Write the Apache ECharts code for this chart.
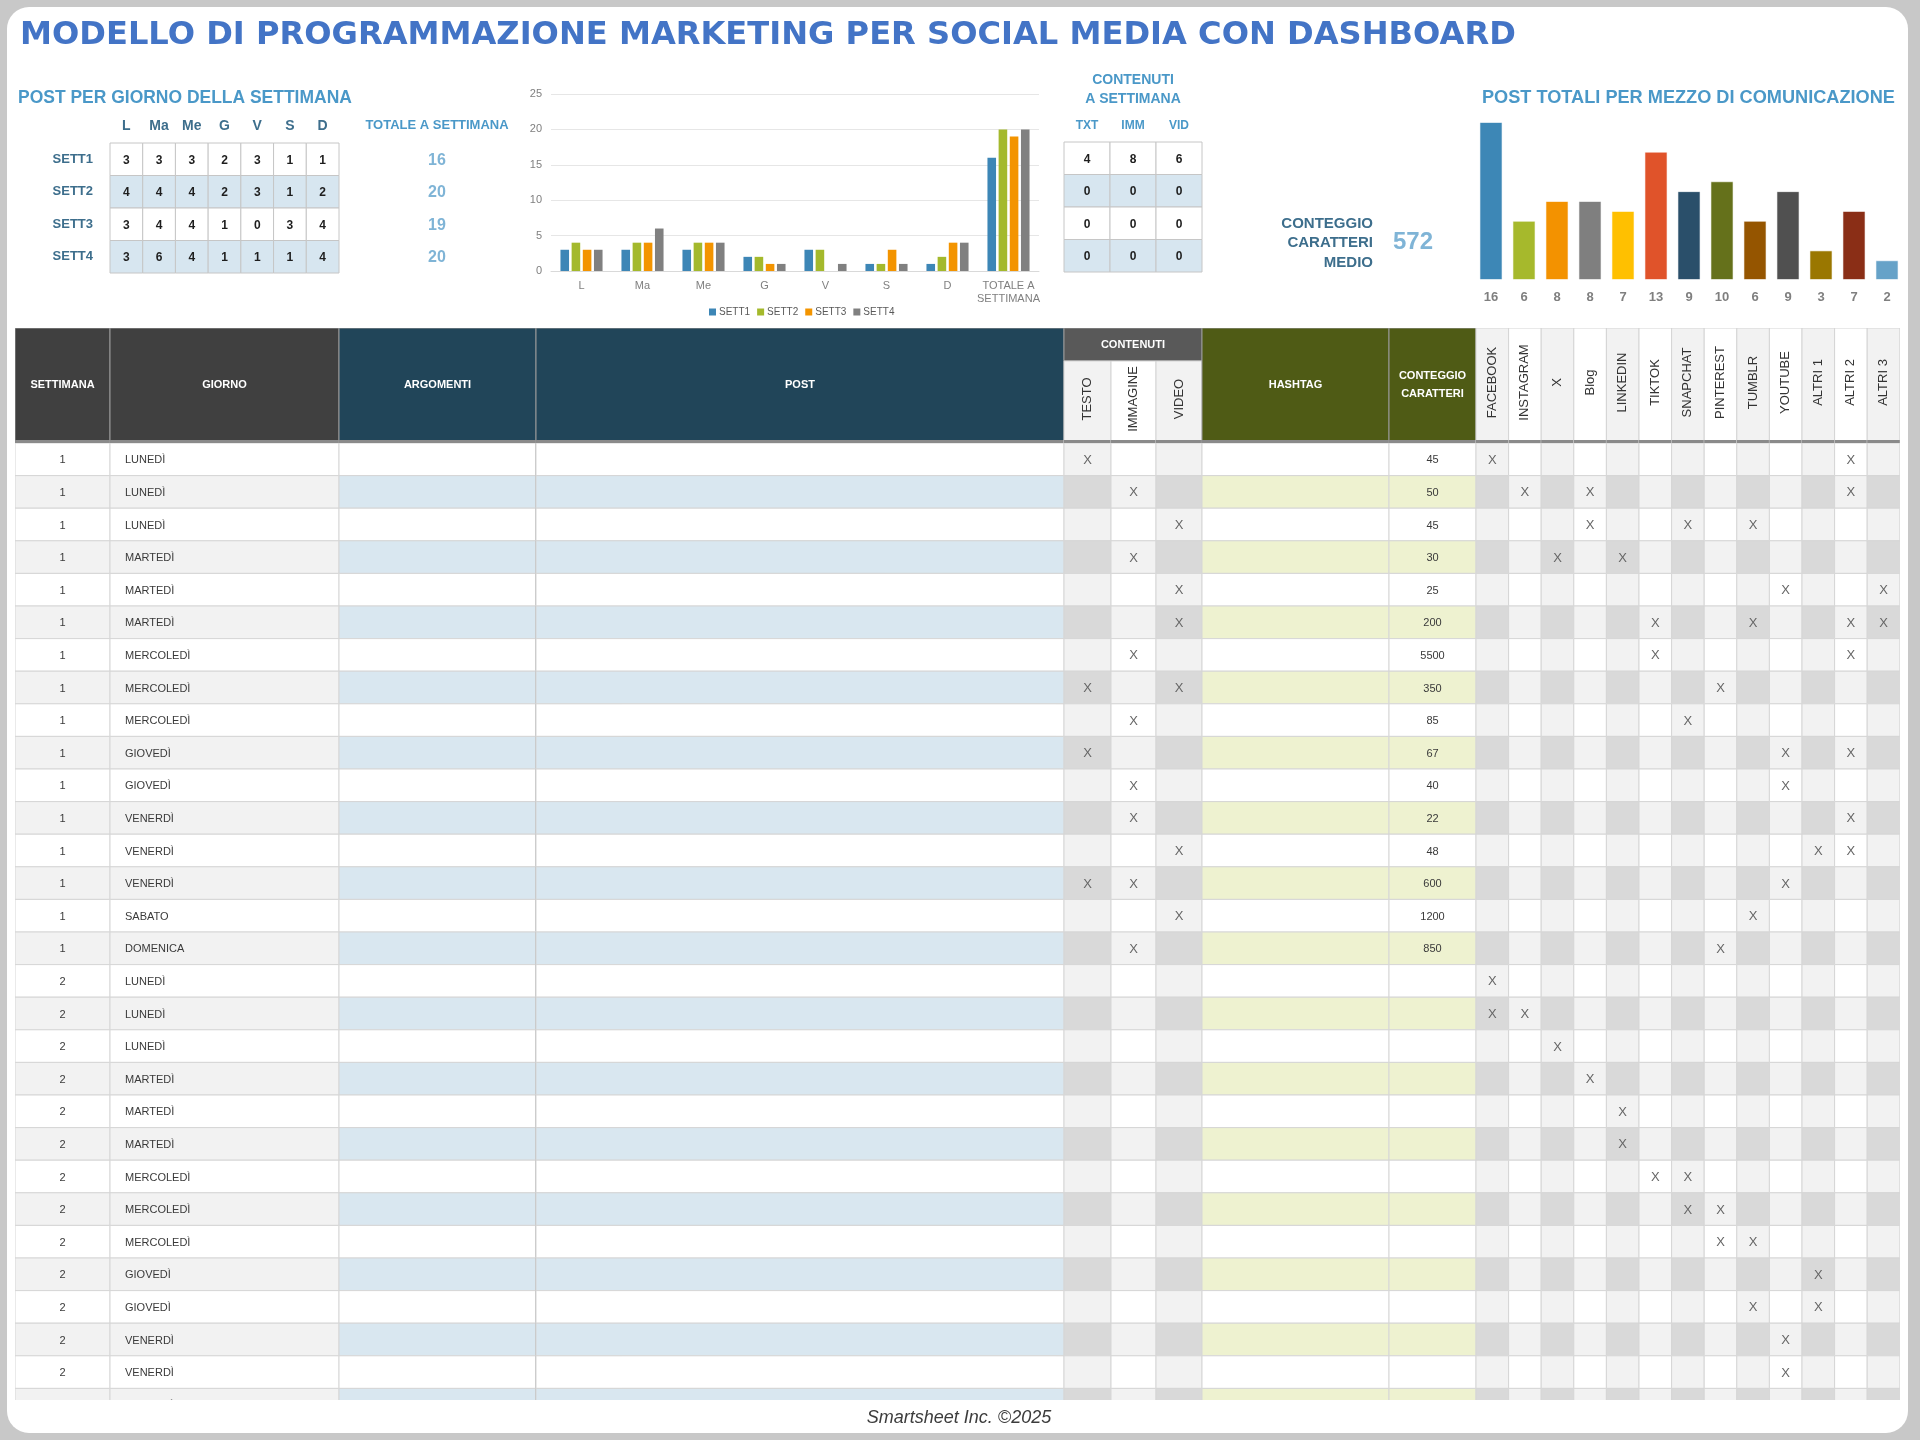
<!DOCTYPE html>
<html><head><meta charset="utf-8">
<script src="https://cdn.jsdelivr.net/npm/echarts@6/dist/echarts.min.js"></script>
<style>html,body{margin:0;padding:0;background:#c8c8c8}#c{width:1920px;height:1440px}</style>
</head><body><div id="c"></div><script>
// ================= DATA =================
const dayLabels = ['L','Ma','Me','G','V','S','D'];
const weekLabels = ['SETT1','SETT2','SETT3','SETT4'];
const sett1 = [3,3,3,2,3,1,1];
const sett2 = [4,4,4,2,3,1,2];
const sett3 = [3,4,4,1,0,3,4];
const sett4 = [3,6,4,1,1,1,4];
const totalLabel = 'TOTALE A SETTIMANA';
const contentLabels = ['TXT','IMM','VID'];
const contentTxt = [4,0,0,0];
const contentImm = [8,0,0,0];
const contentVid = [6,0,0,0];
const channelNames = ['FACEBOOK','INSTAGRAM','X','Blog','LINKEDIN','TIKTOK','SNAPCHAT','PINTEREST','TUMBLR','YOUTUBE','ALTRI 1','ALTRI 2','ALTRI 3'];
const channelTotals = [16,6,8,8,7,13,9,10,6,9,3,7,2];
const tableHeaders = ['SETTIMANA','GIORNO','ARGOMENTI','POST','CONTENUTI','TESTO','IMMAGINE','VIDEO','HASHTAG','CONTEGGIO\nCARATTERI'];
const rowWeeks = [1,1,1,1,1,1,1,1,1,1,1,1,1,1,1,1,2,2,2,2,2,2,2,2,2,2,2,2,2,2];
const rowDays = ['LUNEDÌ','LUNEDÌ','LUNEDÌ','MARTEDÌ','MARTEDÌ','MARTEDÌ','MERCOLEDÌ','MERCOLEDÌ','MERCOLEDÌ','GIOVEDÌ','GIOVEDÌ','VENERDÌ','VENERDÌ','VENERDÌ','SABATO','DOMENICA',
  'LUNEDÌ','LUNEDÌ','LUNEDÌ','MARTEDÌ','MARTEDÌ','MARTEDÌ','MERCOLEDÌ','MERCOLEDÌ','MERCOLEDÌ','GIOVEDÌ','GIOVEDÌ','VENERDÌ','VENERDÌ','VENERDÌ'];
// T = testo, I = immagine, V = video
const rowContent = ['T','I','V','I','V','V','I','TV','I','T','I','I','V','TI','V','I','','','','','','','','','','','','','',''];
const rowChars = [45,50,45,30,25,200,5500,350,85,67,40,22,48,600,1200,850,null,null,null,null,null,null,null,null,null,null,null,null,null,null];
// indexes into channelNames
const rowChannels = [[0,11],[1,3,11],[3,6,8],[2,4],[9,12],[5,8,11,12],[5,11],[7],[6],[9,11],[9],[11],[10,11],[9],[8],[7],
  [0],[0,1],[2],[3],[4],[4],[5,6],[6,7],[7,8],[10],[8,10],[9],[9],[9]];
const footerText = 'Smartsheet Inc. ©2025';
const titleText = 'MODELLO DI PROGRAMMAZIONE MARKETING PER SOCIAL MEDIA CON DASHBOARD';

// ================= STYLE / LAYOUT =================
const weekColors = ['#3d86b6','#a4b92c','#f39400','#808080'];
const channelColors = ['#3d87b6','#a6b92c','#f39200','#7f7f7f','#ffc000','#e0532a','#2a4f6a','#65711b','#955500','#505050','#9a7700','#8a2e16','#66a2c8'];
const F = "'Liberation Sans', Arial, sans-serif";
const FT = "'DejaVu Sans', sans-serif";
const colW = [95,229,197,528,47,45,46,187,87].concat(new Array(13).fill(32.6));
const colStart = []; let acc = 0; colW.forEach(w => { colStart.push(acc); acc += w; }); const tableW = acc;
const ROW_H = 32.6, BODY_H = 957, HEAD_H = 115, SUB_Y = 33;

function fitSize(text, width, weight, family, style) {
  const ctx = document.createElement('canvas').getContext('2d');
  ctx.font = (style || 'normal') + ' ' + weight + ' 100px ' + family;
  return 100 * width / ctx.measureText(text).width;
}
function txt(text, x, y, font, fill, align, extra) {
  return {type:'text', x:x, y:y, z:50, style:Object.assign({text:text, font:font, fill:fill,
    align:align||'left', verticalAlign:'middle', textAlign:align||'left', textVerticalAlign:'middle'}, extra||{})};
}
const sum = a => a.reduce((s,v)=>s+v,0);
const weekData = [sett1, sett2, sett3, sett4];
const weekTotals = weekData.map(sum);
const contentData = [contentTxt, contentImm, contentVid];
const charVals = rowChars.filter(v => v != null);
const avgChars = Math.round(sum(charVals) / charVals.length);

// ----- small tables -----
const dayTableData = [];
weekData.forEach((arr,w)=>arr.forEach((v,d)=>dayTableData.push([d,w,v])));
const contTableData = [];
for (let w=0; w<4; w++) contentData.forEach((arr,c)=>contTableData.push([c,w,arr[w]]));
function smallCell(params, api) {
  const c = api.coord([api.value(0), api.value(1)]);
  const s = api.size([1,1]);
  const w = api.value(1);
  return {type:'group', children:[
    {type:'rect', shape:{x:c[0]-s[0]/2, y:c[1]-s[1]/2, width:s[0], height:s[1]}, style:{fill: w%2 ? '#d7e6f0' : '#ffffff', stroke:'#c6c6c6', lineWidth:1}},
    {type:'text', x:c[0], y:c[1]+1, style:{text:String(api.value(2)), fill:'#1e1e1e', font:"bold 12px "+F, align:'center', verticalAlign:'middle', textAlign:'center', textVerticalAlign:'middle'}}
  ]};
}

// ----- big table -----
const headerCells = [
  {c0:0,c1:0,y0:0,y1:HEAD_H,text:tableHeaders[0],bg:'#404040',color:'#fff'},
  {c0:1,c1:1,y0:0,y1:HEAD_H,text:tableHeaders[1],bg:'#404040',color:'#fff'},
  {c0:2,c1:2,y0:0,y1:HEAD_H,text:tableHeaders[2],bg:'#214559',color:'#fff'},
  {c0:3,c1:3,y0:0,y1:HEAD_H,text:tableHeaders[3],bg:'#214559',color:'#fff'},
  {c0:4,c1:6,y0:0,y1:SUB_Y,text:tableHeaders[4],bg:'#595959',color:'#fff'},
  {c0:4,c1:4,y0:SUB_Y,y1:HEAD_H,text:tableHeaders[5],bg:'#f2f2f2',color:'#333',rot:true},
  {c0:5,c1:5,y0:SUB_Y,y1:HEAD_H,text:tableHeaders[6],bg:'#ffffff',color:'#333',rot:true},
  {c0:6,c1:6,y0:SUB_Y,y1:HEAD_H,text:tableHeaders[7],bg:'#f2f2f2',color:'#333',rot:true},
  {c0:7,c1:7,y0:0,y1:HEAD_H,text:tableHeaders[8],bg:'#4f5b15',color:'#fff'},
  {c0:8,c1:8,y0:0,y1:HEAD_H,text:tableHeaders[9],bg:'#4f5b15',color:'#fff'}
].concat(channelNames.map((n,i)=>({c0:9+i,c1:9+i,y0:0,y1:HEAD_H,text:n,bg:i%2?'#ffffff':'#f2f2f2',color:'#333',rot:true})));
const headerData = headerCells.map((h,i)=>[colStart[h.c0], h.y0, colStart[h.c1]+colW[h.c1], h.y1, i]);
function headerRender(params, api) {
  const h = headerCells[api.value(4)];
  const p0 = api.coord([api.value(0), api.value(1)]);
  const p1 = api.coord([api.value(2), api.value(3)]);
  const x = p0[0], y = p0[1], w = p1[0]-p0[0], hh = p1[1]-p0[1];
  const dark = h.color === '#fff';
  const ch = [{type:'rect', shape:{x:x,y:y,width:w,height:hh}, style:{fill:h.bg, stroke: dark ? '#9a9a9a' : '#d4d4d4', lineWidth:1}}];
  if (h.rot) {
    ch.push({type:'text', x:x+w/2, y:y+hh/2 - 3, rotation:Math.PI/2, style:{text:h.text, fill:h.color, font:"13px "+F, align:'center', verticalAlign:'middle', textAlign:'center', textVerticalAlign:'middle'}});
  } else {
    ch.push({type:'text', x:x+w/2, y:y+hh/2 - (h.y1===HEAD_H ? 1 : 0), style:{text:h.text, fill:h.color, font:"bold 11px "+F, lineHeight:18, align:'center', verticalAlign:'middle', textAlign:'center', textVerticalAlign:'middle'}});
  }
  if (h.y1 === HEAD_H) ch.push({type:'rect', shape:{x:x, y:p1[1]-3, width:w, height:3}, style:{fill:'#8a8a8a'}});
  return {type:'group', children:ch};
}
const bodyData = [];
for (let r=0; r<rowWeeks.length; r++) for (let c=0; c<colW.length; c++) bodyData.push([colStart[c], r, colStart[c]+colW[c], r+1, c]);
function bodyFill(c, sh) {
  if (c <= 1) return sh ? '#f2f2f2' : '#ffffff';
  if (c <= 3) return sh ? '#d9e7f0' : '#ffffff';
  if (c === 7 || c === 8) return sh ? '#eef2d0' : '#ffffff';
  const k = c <= 6 ? c-4 : c-9;
  if (k % 2 === 0) return sh ? '#d9d9d9' : '#f2f2f2';
  return sh ? '#f2f2f2' : '#ffffff';
}
function bodyRender(params, api) {
  const c = api.value(4), r = api.value(1);
  const p0 = api.coord([api.value(0), r]);
  const p1 = api.coord([api.value(2), r+1]);
  const x = p0[0], y = p0[1], w = p1[0]-p0[0], h = p1[1]-p0[1];
  const ch = [{type:'rect', shape:{x:x,y:y,width:w,height:h}, style:{fill:bodyFill(c, r%2===1), stroke:'#d6d6d6', lineWidth:1}}];
  let t = '', align = 'center', tx = x + w/2, font = "11px "+F, fill = '#3a3a3a';
  if (c === 0) t = String(rowWeeks[r]);
  else if (c === 1) { t = rowDays[r]; align = 'left'; tx = x + 15; }
  else if (c >= 4 && c <= 6) { if (rowContent[r].indexOf('TIV'[c-4]) >= 0) { t = 'X'; font = "13px "+F; fill = '#666'; } }
  else if (c === 8) t = rowChars[r] == null ? '' : String(rowChars[r]);
  else if (c >= 9) { if (rowChannels[r].indexOf(c-9) >= 0) { t = 'X'; font = "13px "+F; fill = '#666'; } }
  if (t) ch.push({type:'text', x:tx, y:y+h/2+1, style:{text:t, fill:fill, font:font, align:align, verticalAlign:'middle', textAlign:align, textVerticalAlign:'middle'}});
  if (c === 2) ch.push({type:'line', shape:{x1:x+w, y1:y, x2:x+w, y2:y+h}, style:{stroke:'#b4b4b4', lineWidth:1.5}});
  return {type:'group', children:ch};
}

const hidden = {show:false};
const option = {
  backgroundColor:'#c8c8c8',
  animation:false,
  textStyle:{fontFamily:F},
  grid:[
    {left:110, top:143, width:229, height:130},
    {left:361, top:143, width:152, height:130},
    {left:551, top:94, width:488, height:177},
    {left:1064, top:142, width:138, height:130},
    {left:1474.5, top:122, width:429, height:158},
    {left:15, top:328, width:tableW, height:HEAD_H},
    {left:15, top:443, width:tableW, height:BODY_H}
  ],
  xAxis:[
    {gridIndex:0, type:'category', data:dayLabels, position:'top', axisLine:hidden, axisTick:hidden,
      axisLabel:{color:'#3d6e8c', fontWeight:'bold', fontSize:14, margin:10, fontFamily:F}},
    {gridIndex:1, type:'category', data:[totalLabel], position:'top', axisLine:hidden, axisTick:hidden,
      axisLabel:{color:'#4a98c8', fontWeight:'bold', fontSize:13, margin:11, fontFamily:F}},
    {gridIndex:2, type:'category', data:dayLabels.concat(['TOTALE A\nSETTIMANA']), axisLine:{lineStyle:{color:'#d9d9d9'}}, axisTick:hidden,
      axisLabel:{color:'#7f7f7f', fontSize:11, margin:8, lineHeight:13, fontFamily:F, interval:0}},
    {gridIndex:3, type:'category', data:contentLabels, position:'top', axisLine:hidden, axisTick:hidden,
      axisLabel:{color:'#4a98c8', fontWeight:'bold', fontSize:12, margin:10, fontFamily:F}},
    {gridIndex:4, type:'category', data:channelNames, axisLine:hidden, axisTick:hidden,
      axisLabel:{color:'#7f7f7f', fontWeight:'bold', fontSize:13, margin:11, fontFamily:F, interval:0,
        formatter:(v,i)=>String(channelTotals[i])}},
    {gridIndex:5, type:'value', min:0, max:tableW, show:false},
    {gridIndex:6, type:'value', min:0, max:tableW, show:false}
  ],
  yAxis:[
    {gridIndex:0, type:'category', data:weekLabels, inverse:true, axisLine:hidden, axisTick:hidden,
      axisLabel:{color:'#3d6e8c', fontWeight:'bold', fontSize:13, margin:17, fontFamily:F}},
    {gridIndex:1, type:'category', data:weekLabels, inverse:true, show:false},
    {gridIndex:2, type:'value', min:0, max:25, interval:5, axisLine:hidden, axisTick:hidden,
      splitLine:{lineStyle:{color:'#e6e6e6'}}, axisLabel:{color:'#7f7f7f', fontSize:11, margin:9, fontFamily:F}},
    {gridIndex:3, type:'category', data:weekLabels, inverse:true, show:false},
    {gridIndex:4, type:'value', min:0, max:16, show:false},
    {gridIndex:5, type:'value', min:0, max:HEAD_H, inverse:true, show:false},
    {gridIndex:6, type:'value', min:0, max:BODY_H/ROW_H, inverse:true, show:false}
  ],
  legend:{data:weekLabels, left:704, top:302, itemWidth:7, itemHeight:7, itemGap:7, icon:'rect',
    textStyle:{color:'#595959', fontSize:10, fontFamily:F, padding:[0,0,0,-2]}},
  series:[
    {type:'custom', xAxisIndex:0, yAxisIndex:0, data:dayTableData, renderItem:smallCell, silent:true},
    {type:'custom', xAxisIndex:1, yAxisIndex:1, data:weekTotals.map((t,w)=>[0,w,t]), silent:true,
      renderItem:(p,api)=>{const c=api.coord([api.value(0),api.value(1)]); return {type:'text', x:c[0], y:c[1]+1,
        style:{text:String(api.value(2)), fill:'#7fb4d6', font:"bold 16px "+F, align:'center', verticalAlign:'middle', textAlign:'center', textVerticalAlign:'middle'}};}},
    {type:'custom', xAxisIndex:3, yAxisIndex:3, data:contTableData, renderItem:smallCell, silent:true}
  ].concat(weekData.map((arr,i)=>({
    type:'bar', name:weekLabels[i], xAxisIndex:2, yAxisIndex:2, data:arr.concat([sum(arr)]),
    itemStyle:{color:weekColors[i]}, barGap:'30%', barCategoryGap:'31%'
  }))).concat([
    {type:'bar', name:'POST TOTALI', xAxisIndex:4, yAxisIndex:4, barCategoryGap:'30%',
      data:channelTotals.map((v,i)=>({value:v, itemStyle:{color:channelColors[i], borderColor:'rgba(255,255,255,0.6)', borderWidth:1}}))},
    {type:'custom', xAxisIndex:5, yAxisIndex:5, data:headerData, renderItem:headerRender, silent:true, clip:true,
      encode:{x:[0,2], y:[1,3]}},
    {type:'custom', xAxisIndex:6, yAxisIndex:6, data:bodyData, renderItem:bodyRender, silent:true, clip:true,
      encode:{x:[0,2], y:[1,3]}}
  ]),
  graphic:[
    {type:'rect', z:-1, shape:{x:7, y:7, width:1901, height:1426, r:22}, style:{fill:'#ffffff'}},
    txt(titleText, 20, 36, "bold " + fitSize(titleText, 1496, 'bold', FT).toFixed(2) + "px " + FT, '#4374c6'),
    txt('POST PER GIORNO DELLA SETTIMANA', 18, 98, "bold " + fitSize('POST PER GIORNO DELLA SETTIMANA', 334, 'bold', F).toFixed(2) + "px " + F, '#4a98c8'),
    txt('CONTENUTI\nA SETTIMANA', 1133, 90, "bold 14px " + F, '#4a98c8', 'center', {lineHeight:19}),
    txt('CONTEGGIO\nCARATTERI\nMEDIO', 1373, 243, "bold 15px " + F, '#3d6e8c', 'right', {lineHeight:19.5}),
    txt(String(avgChars), 1413, 242, "bold 24px " + F, '#7fb4d6', 'center'),
    txt('POST TOTALI PER MEZZO DI COMUNICAZIONE', 1482, 98, "bold " + fitSize('POST TOTALI PER MEZZO DI COMUNICAZIONE', 413, 'bold', F).toFixed(2) + "px " + F, '#4a98c8'),
    txt(footerText, 959, 1418, "italic 18px " + F, '#3c3c3c', 'center')
  ]
};
const chart = echarts.init(document.getElementById('c'), null, {width:1920, height:1440});
chart.setOption(option);
</script></body></html>
